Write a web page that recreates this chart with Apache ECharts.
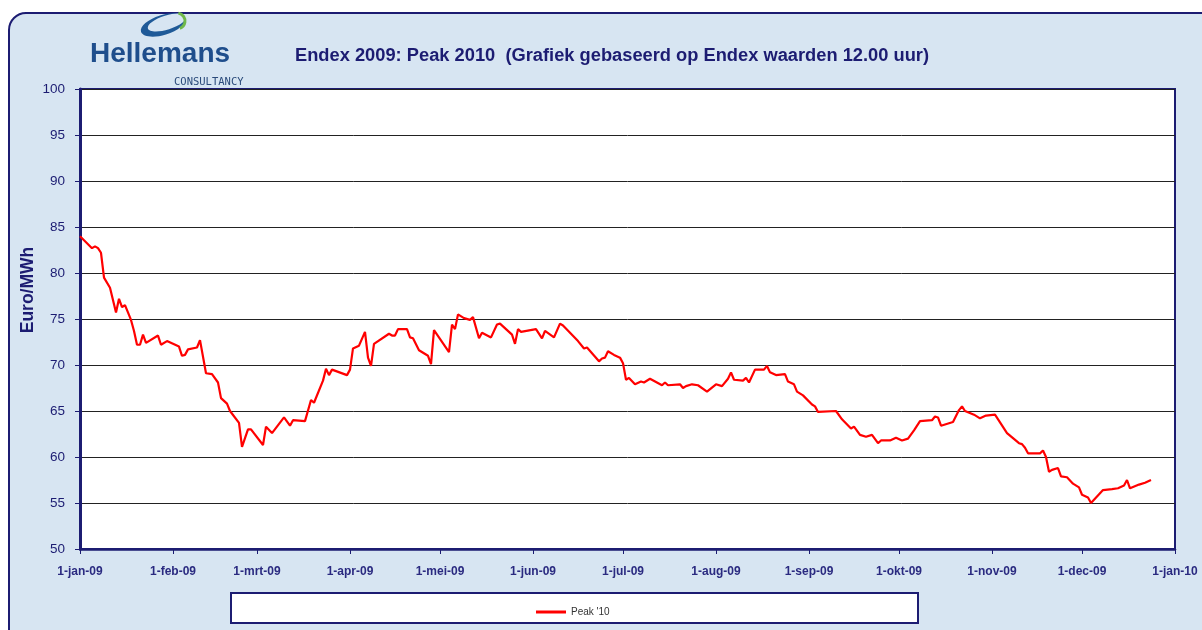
<!DOCTYPE html>
<html><head><meta charset="utf-8">
<script src="https://cdn.jsdelivr.net/npm/echarts@6/dist/echarts.min.js"></script>
<style>
html,body{margin:0;padding:0;background:#fff;overflow:hidden;width:1202px;height:630px;}
#frame{position:absolute;left:8px;top:12px;width:1240px;height:670px;border:2.5px solid #1c1c72;border-radius:18px;
background:#d7e5f2;}
#main{position:absolute;left:0;top:0;width:1202px;height:630px;}
</style></head><body>
<div id="frame"></div><div id="main"></div>
<script>
const dates = [
'2009-01-01','2009-01-05','2009-01-06','2009-01-07','2009-01-08','2009-01-09','2009-01-11','2009-01-13','2009-01-14','2009-01-15',
'2009-01-16','2009-01-18','2009-01-19','2009-01-20','2009-01-21','2009-01-22','2009-01-23','2009-01-27','2009-01-28','2009-01-30',
'2009-02-03','2009-02-04','2009-02-05','2009-02-06','2009-02-09','2009-02-10','2009-02-12','2009-02-14','2009-02-16','2009-02-17',
'2009-02-19','2009-02-20','2009-02-23','2009-02-24','2009-02-26','2009-02-27','2009-03-03','2009-03-04','2009-03-06','2009-03-10',
'2009-03-12','2009-03-13','2009-03-17','2009-03-19','2009-03-20','2009-03-23','2009-03-24','2009-03-25','2009-03-26','2009-03-31',
'2009-04-01','2009-04-02','2009-04-04','2009-04-06','2009-04-07','2009-04-08','2009-04-09','2009-04-14','2009-04-15','2009-04-16',
'2009-04-17','2009-04-20','2009-04-21','2009-04-22','2009-04-24','2009-04-27','2009-04-28','2009-04-29','2009-05-04','2009-05-05',
'2009-05-06','2009-05-07','2009-05-09','2009-05-11','2009-05-12','2009-05-14','2009-05-15','2009-05-18','2009-05-20','2009-05-21',
'2009-05-25','2009-05-26','2009-05-27','2009-05-28','2009-06-02','2009-06-04','2009-06-05','2009-06-08','2009-06-10','2009-06-11',
'2009-06-16','2009-06-18','2009-06-19','2009-06-23','2009-06-24','2009-06-25','2009-06-26','2009-06-28','2009-06-30','2009-07-01',
'2009-07-02','2009-07-03','2009-07-05','2009-07-07','2009-07-08','2009-07-10','2009-07-14','2009-07-15','2009-07-16','2009-07-20',
'2009-07-21','2009-07-22','2009-07-24','2009-07-26','2009-07-29','2009-08-01','2009-08-03','2009-08-05','2009-08-06','2009-08-07',
'2009-08-10','2009-08-11','2009-08-12','2009-08-14','2009-08-17','2009-08-18','2009-08-19','2009-08-21','2009-08-24','2009-08-25',
'2009-08-27','2009-08-28','2009-08-30','2009-09-02','2009-09-03','2009-09-04','2009-09-10','2009-09-12','2009-09-15','2009-09-16',
'2009-09-18','2009-09-20','2009-09-22','2009-09-24','2009-09-25','2009-09-28','2009-09-30','2009-10-02','2009-10-04','2009-10-06',
'2009-10-08','2009-10-12','2009-10-13','2009-10-14','2009-10-15','2009-10-19','2009-10-21','2009-10-22','2009-10-23','2009-10-26',
'2009-10-28','2009-10-30','2009-11-02','2009-11-04','2009-11-06','2009-11-10','2009-11-11','2009-11-12','2009-11-13','2009-11-17',
'2009-11-18','2009-11-19','2009-11-20','2009-11-21','2009-11-23','2009-11-24','2009-11-26','2009-11-28','2009-11-30','2009-12-01',
'2009-12-03','2009-12-04','2009-12-06','2009-12-08','2009-12-11','2009-12-13','2009-12-15','2009-12-16','2009-12-17','2009-12-20',
'2009-12-22','2009-12-24'
];
const values = [
84.0,82.7,82.9,82.7,82.2,79.5,78.4,75.7,77.2,76.3,
76.5,74.9,73.7,72.2,72.2,73.3,72.4,73.2,72.2,72.6,
72.0,71.0,71.1,71.7,71.9,72.7,69.1,69.0,68.1,66.4,
65.8,65.0,63.7,61.1,63.0,63.0,61.3,63.3,62.6,64.3,
63.4,64.0,63.9,66.2,65.9,68.3,69.6,68.9,69.5,68.9,
69.5,71.8,72.1,73.6,70.8,69.9,72.3,73.4,73.2,73.2,
73.9,73.9,73.0,72.9,71.6,71.0,70.1,73.8,71.4,74.4,
73.9,75.5,75.1,74.9,75.2,72.9,73.5,73.0,74.4,74.5,
73.3,72.3,73.9,73.6,73.9,72.9,73.7,73.0,74.5,74.3,
72.6,71.8,71.9,70.4,70.7,70.8,71.5,71.1,70.8,70.2,
68.4,68.6,67.9,68.2,68.1,68.5,67.8,68.1,67.8,67.9,
67.5,67.7,67.9,67.8,67.1,67.9,67.7,68.5,69.2,68.4,
68.3,68.6,68.1,69.5,69.5,69.9,69.2,68.9,69.0,68.2,
67.9,67.1,66.7,65.7,65.5,64.9,65.0,64.1,63.1,63.3,
62.4,62.2,62.4,61.5,61.8,61.8,62.1,61.8,62.0,62.9,
63.9,64.0,64.4,64.3,63.4,63.8,65.1,65.5,65.0,64.6,
64.2,64.5,64.6,63.6,62.6,61.5,61.4,61.0,60.4,60.4,
60.7,60.0,58.4,58.6,58.8,57.9,57.8,57.1,56.7,55.9,
55.6,55.0,55.7,56.4,56.5,56.6,56.9,57.5,56.6,57.0,
57.2,57.5
];
const xTickLabels = ['1-jan-09','1-feb-09','1-mrt-09','1-apr-09','1-mei-09','1-jun-09','1-jul-09',
  '1-aug-09','1-sep-09','1-okt-09','1-nov-09','1-dec-09','1-jan-10'];
const seriesName = "Peak '10";
const titleText = 'Endex 2009: Peak 2010  (Grafiek gebaseerd op Endex waarden 12.00 uur)';
const yName = 'Euro/MWh';

const navy = '#1c1c72';
const bg = '#d7e5f2';
const toTs = s => { const p = s.split('-').map(Number); return Date.UTC(p[0], p[1] - 1, p[2]); };
const monthTicks = xTickLabels.map((_, i) => Date.UTC(2009, i, 1));
const chart = echarts.init(document.getElementById('main'), null, {renderer: 'canvas'});
chart.setOption({
  backgroundColor: 'transparent',
  animation: false,
  title: {text: titleText, left: 290, top: 42,
    textStyle: {fontFamily: 'Liberation Sans, Arial, sans-serif', fontSize: 18.3, fontWeight: 'bold', color: navy}},
  grid: {left: 80, right: 27, top: 89, bottom: 81, show: true, backgroundColor: '#ffffff',
    borderColor: navy, borderWidth: 2},
  legend: {data: [seriesName], left: 531, top: 602, icon: 'rect', itemWidth: 30, itemHeight: 3, itemGap: 4,
    textStyle: {fontSize: 10, color: '#333', fontFamily: 'Liberation Sans, Arial, sans-serif'}},
  xAxis: {type: 'value', min: monthTicks[0], max: monthTicks[monthTicks.length - 1],
    axisLine: {lineStyle: {color: navy, width: 2.5}},
    axisTick: {customValues: monthTicks, length: 5, lineStyle: {color: navy}},
    axisLabel: {customValues: monthTicks, margin: 17, fontSize: 12, fontWeight: 'bold', color: '#2a2a80',
      showMinLabel: true, showMaxLabel: true,
      fontFamily: 'Liberation Sans, Arial, sans-serif',
      formatter: function (v) {
        const d = new Date(v);
        const idx = (d.getUTCFullYear() - 2009) * 12 + d.getUTCMonth();
        return xTickLabels[idx] || '';
      }},
    splitLine: {show: false}},
  yAxis: {type: 'value', min: 50, max: 100, interval: 5,
    axisLine: {show: true, lineStyle: {color: navy, width: 3}},
    axisTick: {show: true, length: 5, lineStyle: {color: navy}},
    axisLabel: {fontSize: 13.5, color: navy, margin: 15, fontFamily: 'Liberation Sans, Arial, sans-serif'},
    splitLine: {lineStyle: {color: '#222', width: 1}}},
  graphic: [
    {type: 'ellipse', shape: {cx: 163, cy: 25, rx: 23, ry: 10}, rotation: 0.3, originX: 163, originY: 25,
      style: {fill: '#1f5a98'}},
    {type: 'ellipse', shape: {cx: 167, cy: 22.5, rx: 20, ry: 7}, rotation: 0.3, originX: 167, originY: 22.5,
      style: {fill: bg}},
    {type: 'arc', shape: {cx: 177, cy: 21, r: 8, startAngle: -1.4, endAngle: 1.2}, style: {fill: 'none', stroke: '#6fb84a', lineWidth: 3}},
    {type: 'text', left: 90, top: 40, style: {text: 'Hellemans', fontFamily: 'Liberation Sans, Arial, sans-serif',
      fontSize: 28, fontWeight: 'bold', fill: '#1f4e8c'}},
    {type: 'text', left: 174, top: 77, style: {text: 'CONSULTANCY', fontFamily: 'DejaVu Sans Mono, monospace',
      fontSize: 10.5, fill: '#2a4a7a'}},
    {type: 'text', x: 28, y: 290, rotation: Math.PI / 2, style: {text: yName, fontFamily: 'Liberation Sans, Arial, sans-serif',
      fontSize: 17.5, fontWeight: 'bold', fill: navy, align: 'center', verticalAlign: 'middle'}},
    {type: 'rect', shape: {x: 231, y: 593, width: 687, height: 30}, style: {fill: '#fff', stroke: navy, lineWidth: 2}}
  ],
  series: [{
    name: seriesName, type: 'line', showSymbol: false, symbol: 'none',
    data: dates.map((d, i) => [toTs(d), values[i]]),
    lineStyle: {color: '#ff0000', width: 2.2}, itemStyle: {color: '#ff0000'}
  }]
});
</script>
</body></html>
